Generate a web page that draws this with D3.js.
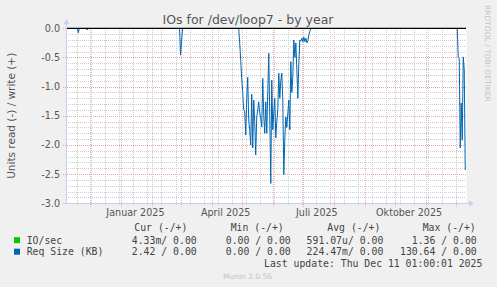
<!DOCTYPE html>
<html>
<head>
<meta charset="utf-8">
<script src="https://cdn.jsdelivr.net/npm/d3@7"></script>
<style>
  body { margin: 0; background: #f0f0f0; }
  svg { display: block; }
</style>
</head>
<body>
<svg id="chart"></svg>
<script>
// time window of the graph (400 days)
const startDate = "2024-11-06 01:00";
const endDate = "2025-12-11 01:00";

// read series (Req Size), one value per day, drawn in bursts
const burstStarts = ["2024-11-18", "2024-11-27", "2025-02-28", "2025-04-28", "2025-12-02"];
const burstA = [0, -0.075, 0];
const burstB = [0, -0.03, 0];
const burstC = [0, -0.46, -0.22, 0];
const burstD = [
  0, -0.25, -0.55, -0.85, -1.1, -1.4, -1.42, -1.83, -1.2, -0.84,
  -1.57, -1.75, -2.0, -1.13, -2.05, -1.23, -1.6, -2.17, -1.52, -1.4,
  -1.26, -1.45, -1.55, -1.69, -0.86, -1.5, -1.8, -1.26, -1.8, -1.1,
  -0.43, -1.5, -2.66, -0.89, -1.74, -1.45, -1.2, -1.88, -1.6, -1.4,
  -0.77, -1.2, -0.9, -0.77, -1.23, -2.51, -1.9, -1.52, -1.7, -1.46,
  -1.23, -1.74, -0.57, -1.1, -0.83, -0.2, -0.5, -0.25, -0.7, -1.2,
  -0.6, -0.2, -0.22, -0.17, -0.23, -0.15, -0.23, -0.17, -0.25, -0.21,
  -0.11, -0.05, 0
];
const burstE = [0, -0.5, -0.52, -2.05, -1.28, -1.92, -0.49, -0.71, -2.43];
const bursts = [burstA, burstB, burstC, burstD, burstE];

// axis ticks
const yTicks = [0, -0.5, -1, -1.5, -2, -2.5, -3];
const xLabels = ["Januar 2025", "April 2025", "Juli 2025", "Oktober 2025"];
const xLabelDates = ["2025-01-15", "2025-04-15", "2025-07-15", "2025-10-15"];
const minorGridStart = "2024-11-18"; // every second Monday

// legend
const legendHeads = ["Cur (-/+)", "Min (-/+)", "Avg (-/+)", "Max (-/+)"];
const legendNames = ["IO/sec", "Req Size (KB)"];
const legendColors = ["#00cc00", "#0066b3"];
const legendCur = ["4.33m/ 0.00", "2.42 / 0.00"];
const legendMin = ["0.00 / 0.00", "0.00 / 0.00"];
const legendAvg = ["591.07u/ 0.00", "224.47m/ 0.00"];
const legendMax = ["1.36 / 0.00", "130.64 / 0.00"];

const width = 497, height = 287;
const parseDay = d3.timeParse("%Y-%m-%d");
const parseTime = d3.timeParse("%Y-%m-%d %H:%M");
const t0 = parseTime(startDate), t1 = parseTime(endDate);

const x = d3.scaleTime().domain([t0, t1]).range([65.3, 466.3]);
const y = d3.scaleLinear().domain([-3, 0]).range([203.3, 28.3]);

const svg = d3.select("#chart")
    .attr("width", width)
    .attr("height", height)
    .attr("viewBox", [0, 0, width, height])
    .style("font-family", "'DejaVu Sans', sans-serif");

const axisColor = "#c8cff5";
const textColor = "#555";

// canvas
svg.append("rect")
    .attr("x", 66).attr("y", 28)
    .attr("width", 400.5).attr("height", 175.5)
    .attr("fill", "#fff");

const grid = svg.append("g").attr("shape-rendering", "crispEdges");

// minor grid
const minorY = y.ticks(30).filter(v => yTicks.indexOf(v) < 0);
grid.selectAll(".ymin").data(minorY).join("line")
    .attr("x1", 66).attr("x2", 466)
    .attr("y1", d => Math.round(y(d)) + 0.5).attr("y2", d => Math.round(y(d)) + 0.5)
    .attr("stroke", "#cdcdcd").attr("stroke-dasharray", "1,1");

let minorX = [];
for (let d = parseDay(minorGridStart); d < t1; d = d3.timeDay.offset(d, 14)) minorX.push(d);
grid.selectAll(".xmin").data(minorX).join("line")
    .attr("x1", d => Math.round(x(d)) + 0.5).attr("x2", d => Math.round(x(d)) + 0.5)
    .attr("y1", 28).attr("y2", 206)
    .attr("stroke", "#cdcdcd").attr("stroke-dasharray", "1,1");

// major grid
grid.selectAll(".ymaj").data(yTicks).join("line")
    .attr("x1", 63).attr("x2", 466)
    .attr("y1", d => Math.round(y(d)) + 0.5).attr("y2", d => Math.round(y(d)) + 0.5)
    .attr("stroke", "#e9a9a9").attr("stroke-dasharray", "1,1");

const months = d3.timeMonth.range(d3.timeMonth.ceil(t0), t1);
grid.selectAll(".xmaj").data(months).join("line")
    .attr("x1", d => Math.round(x(d)) + 0.5).attr("x2", d => Math.round(x(d)) + 0.5)
    .attr("y1", 28).attr("y2", 207)
    .attr("stroke", "#ebb4b4").attr("stroke-dasharray", "1,1");

// read series
const line = d3.line()
    .x(d => x(d.date))
    .y(d => y(d.value));

bursts.forEach((vals, i) => {
    const s = parseDay(burstStarts[i]);
    const pts = vals.map((v, k) => ({ date: d3.timeDay.offset(s, k), value: v }));
    svg.append("path")
        .datum(pts)
        .attr("fill", "none")
        .attr("stroke", "#0066b3")
        .attr("stroke-width", 1)
        .attr("d", line);
});

// write series sits on zero
svg.append("line")
    .attr("x1", 66).attr("x2", 466)
    .attr("y1", y(0)).attr("y2", y(0))
    .attr("stroke", "#000").attr("stroke-width", 1.2);

// axes
svg.append("line")
    .attr("x1", 66.5).attr("x2", 66.5).attr("y1", 24).attr("y2", 204)
    .attr("stroke", axisColor);
svg.append("path").attr("d", "M63.5,24 L69.5,24 L66.5,19 Z").attr("fill", axisColor);
svg.append("line")
    .attr("x1", 63).attr("x2", 470).attr("y1", 203.5).attr("y2", 203.5)
    .attr("stroke", axisColor);
svg.append("path").attr("d", "M469,200.5 L469,206.5 L474,203.5 Z").attr("fill", axisColor);

// y tick labels
const fmt = d3.formatLocale({ decimal: ".", thousands: ",", grouping: [3], currency: ["", ""], minus: "-" }).format(".1f");
svg.selectAll(".ylab").data(yTicks).join("text")
    .attr("x", 60).attr("y", d => y(d) + 3.5)
    .attr("text-anchor", "end")
    .attr("font-size", 9.6)
    .attr("fill", textColor)
    .text(d => fmt(d));

// x labels
svg.selectAll(".xlab").data(xLabels).join("text")
    .attr("x", (d, i) => x(parseDay(xLabelDates[i])))
    .attr("y", 216)
    .attr("text-anchor", "middle")
    .attr("font-size", 9.6)
    .attr("fill", textColor)
    .text(d => d);

// titles
svg.append("text")
    .attr("x", 248).attr("y", 24)
    .attr("text-anchor", "middle")
    .attr("font-size", 12.5)
    .attr("fill", textColor)
    .text("IOs for /dev/loop7 - by year");

svg.append("text")
    .attr("transform", "translate(14.5,115.8) rotate(-90)")
    .attr("text-anchor", "middle")
    .attr("font-size", 10.5)
    .attr("fill", textColor)
    .text("Units read (-) / write (+)");

svg.append("text")
    .attr("transform", "translate(485,5) rotate(90)")
    .attr("font-size", 7.5)
    .attr("fill", "#c4c4c4")
    .text("RRDTOOL / TOBI OETIKER");

// legend
const mono = "'DejaVu Sans Mono', monospace";
const legend = svg.append("g")
    .style("font-family", mono)
    .attr("font-size", 9.8)
    .attr("fill", "#444");

const headX = [134.3, 230.7, 327.3, 422.7];
legend.selectAll(".head").data(legendHeads).join("text")
    .attr("x", (d, i) => headX[i]).attr("y", 231)
    .text(d => d);

const rowY = [243.5, 255];
legendNames.forEach((name, i) => {
    legend.append("rect")
        .attr("x", 14).attr("y", rowY[i] - 6.3)
        .attr("width", 6).attr("height", 6)
        .attr("fill", legendColors[i]);
    legend.append("text").attr("x", 26.7).attr("y", rowY[i]).text(name);
    const cols = [[legendCur, 196.7], [legendMin, 290.7], [legendAvg, 383.3], [legendMax, 476.7]];
    cols.forEach(([vals, xr]) => {
        legend.append("text")
            .attr("x", xr).attr("y", rowY[i])
            .attr("text-anchor", "end")
            .style("white-space", "pre")
            .text(vals[i]);
    });
});

legend.append("text")
    .attr("x", 482.3).attr("y", 266.5)
    .attr("text-anchor", "end")
    .style("white-space", "pre")
    .text("Last update: Thu Dec 11 01:00:01 2025");

svg.append("text")
    .attr("x", 247.5).attr("y", 279)
    .attr("text-anchor", "middle")
    .attr("font-size", 7.5)
    .attr("fill", "#c4c4c4")
    .text("Munin 2.0.56");
</script>
</body>
</html>
